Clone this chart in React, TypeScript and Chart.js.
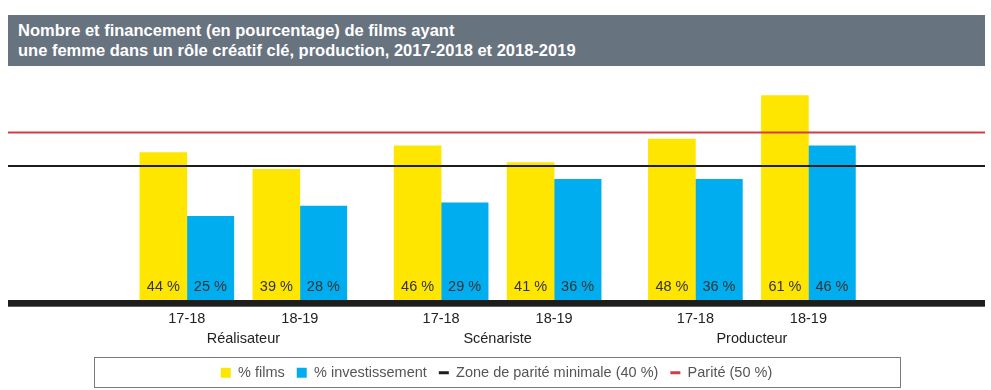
import { useEffect, useRef } from "react";
import { Chart, registerables } from "chart.js";

Chart.register(...registerables);

// ---------- data ----------
const TITLE_LINES = [
  "Nombre et financement (en pourcentage) de films ayant",
  "une femme dans un rôle créatif clé, production, 2017-2018 et 2018-2019",
];
const PERIODS = ["17-18", "18-19", "17-18", "18-19", "17-18", "18-19"];
const GROUPS = ["Réalisateur", "Scénariste", "Producteur"];
const FILMS = [44, 39, 46, 41, 48, 61];
const INVEST = [25, 28, 29, 36, 36, 46];
const PARITE_MIN = [40];
const PARITE = [50];
const SERIES = ["% films", "% investissement", "Zone de parité minimale (40 %)", "Parité (50 %)"];

// ---------- layout / style ----------
const PAIR_STEP = 4;
const GROUP_STEP = 9;
const PER_GROUP = 2;
const X_MIN = -6.33;
const X_MAX = 28.25;
const posOf = (i: number) => Math.floor(i / PER_GROUP) * GROUP_STEP + (i % PER_GROUP) * PAIR_STEP;
const groupCenter = (g: number) => g * GROUP_STEP + ((PER_GROUP - 1) * PAIR_STEP) / 2;

const FONT = '"Liberation Sans", Arial, Helvetica, sans-serif';
const YELLOW = "#ffe600";
const BLUE = "#00aeef";
const BLACK = "#1d1d1b";
const RED = "#d23c44";
const LEGEND_PAD = 12;
const LEGEND_FONT = 14.5;
const CANVAS_H = 324;

const barLabels = {
  id: "barLabels",
  afterDatasetsDraw(chart: any) {
    const ctx = chart.ctx;
    const area = chart.chartArea;
    ctx.save();
    // thick baseline
    ctx.fillStyle = BLACK;
    ctx.fillRect(area.left, area.bottom, area.right - area.left, 6.7);
    // value labels
    ctx.font = `${LEGEND_FONT}px ${FONT}`;
    ctx.fillStyle = "#333333";
    ctx.textAlign = "center";
    ctx.textBaseline = "middle";
    [0, 1].forEach((di) => {
      const meta = chart.getDatasetMeta(di);
      const vals = chart.data.datasets[di].data;
      meta.data.forEach((el: any, i: number) => {
        ctx.fillText(`${vals[i].y} %`, el.x, el.base - 13);
      });
    });
    // legend frame
    const lg = chart.legend;
    if (lg) {
      const cy = lg.top + LEGEND_PAD + LEGEND_FONT / 2;
      const cx = (area.left + area.right) / 2;
      ctx.strokeStyle = "#7a7a7a";
      ctx.lineWidth = 1;
      ctx.strokeRect(Math.round(cx - 403) + 0.5, Math.round(cy - 16) + 0.5, 806, 30);
    }
    ctx.restore();
  },
};

export default function App() {
  const ref = useRef<HTMLCanvasElement | null>(null);

  useEffect(() => {
    if (!ref.current) return;
    const tickFont = { family: FONT, size: 14.5 };
    const chart = new Chart(ref.current, {
      type: "bar",
      data: {
        datasets: [
          {
            label: SERIES[0],
            data: FILMS.map((v, i) => ({ x: posOf(i), y: v })),
            backgroundColor: YELLOW,
            borderWidth: 0,
            order: 2,
          },
          {
            label: SERIES[1],
            data: INVEST.map((v, i) => ({ x: posOf(i), y: v })),
            backgroundColor: BLUE,
            borderWidth: 0,
            order: 2,
          },
          {
            type: "line",
            label: SERIES[2],
            data: [{ x: X_MIN, y: PARITE_MIN[0] }, { x: X_MAX, y: PARITE_MIN[0] }],
            borderColor: BLACK,
            backgroundColor: BLACK,
            borderWidth: 2,
            pointRadius: 0,
            order: 1,
          },
          {
            type: "line",
            label: SERIES[3],
            data: [{ x: X_MIN, y: PARITE[0] }, { x: X_MAX, y: PARITE[0] }],
            borderColor: RED,
            backgroundColor: RED,
            borderWidth: 2,
            pointRadius: 0,
            order: 1,
          },
        ] as any,
      },
      options: {
        responsive: false,
        animation: false,
        events: [],
        datasets: { bar: { barThickness: 47 } } as any,
        layout: { padding: { top: 16.25, left: 0, right: 0, bottom: 0 } },
        scales: {
          x: {
            type: "linear",
            position: "bottom",
            offset: false,
            weight: 0,
            min: X_MIN,
            max: X_MAX,
            grid: { display: false, drawTicks: false },
            border: { display: false },
            afterBuildTicks: (axis: any) => {
              axis.ticks = PERIODS.map((_, i) => ({ value: posOf(i) }));
            },
            afterFit: (axis: any) => {
              axis.height = 28;
            },
            ticks: {
              autoSkip: false,
              maxRotation: 0,
              padding: 10.3,
              color: "#222222",
              font: tickFont,
              callback: (_v: any, i: number) => PERIODS[i],
            },
          },
          x2: {
            type: "linear",
            position: "bottom",
            offset: false,
            weight: 1,
            min: X_MIN,
            max: X_MAX,
            grid: { display: false, drawTicks: false },
            border: { display: false },
            afterBuildTicks: (axis: any) => {
              axis.ticks = GROUPS.map((_, g) => ({ value: groupCenter(g) }));
            },
            afterFit: (axis: any) => {
              axis.height = 25.5;
            },
            ticks: {
              autoSkip: false,
              maxRotation: 0,
              padding: 1.8,
              color: "#222222",
              font: tickFont,
              callback: (_v: any, i: number) => GROUPS[i],
            },
          },
          y: {
            display: false,
            min: 0,
            max: 65,
          },
        } as any,
        plugins: {
          title: { display: false },
          tooltip: { enabled: false },
          legend: {
            display: true,
            position: "bottom",
            labels: {
              usePointStyle: true,
              pointStyleWidth: 10,
              boxHeight: 10,
              padding: LEGEND_PAD,
              color: "#555555",
              font: { family: FONT, size: LEGEND_FONT },
              sort: (a: any, b: any) => a.datasetIndex - b.datasetIndex,
              generateLabels: (ch: any) => {
                const items = (Chart.defaults.plugins.legend.labels as any).generateLabels(ch);
                return items.map((it: any) => {
                  const ds = ch.data.datasets[it.datasetIndex];
                  const isLine = ds.type === "line";
                  const col = isLine ? ds.borderColor : ds.backgroundColor;
                  return {
                    ...it,
                    pointStyle: isLine ? "line" : "rect",
                    fillStyle: col,
                    strokeStyle: col,
                    lineWidth: isLine ? 3 : 0,
                  };
                });
              },
            },
          },
        },
      } as any,
      plugins: [barLabels],
    });
    return () => chart.destroy();
  }, []);

  return (
    <div
      style={{
        position: "absolute",
        left: 8,
        top: 15,
        width: 977,
        height: 375,
        overflow: "hidden",
        background: "#ffffff",
      }}
    >
      <div
        style={{
          height: 51,
          boxSizing: "border-box",
          background: "#687380",
          color: "#ffffff",
          fontFamily: FONT,
          fontWeight: "bold",
          fontSize: 16.5,
          lineHeight: "20px",
          paddingTop: 5,
          paddingLeft: 10,
          whiteSpace: "nowrap",
        }}
      >
        {TITLE_LINES.map((t, i) => (
          <div key={i}>{t}</div>
        ))}
      </div>
      <canvas
        ref={ref}
        width={977}
        height={CANVAS_H}
        style={{ display: "block", width: 977, height: CANVAS_H }}
      />
    </div>
  );
}
